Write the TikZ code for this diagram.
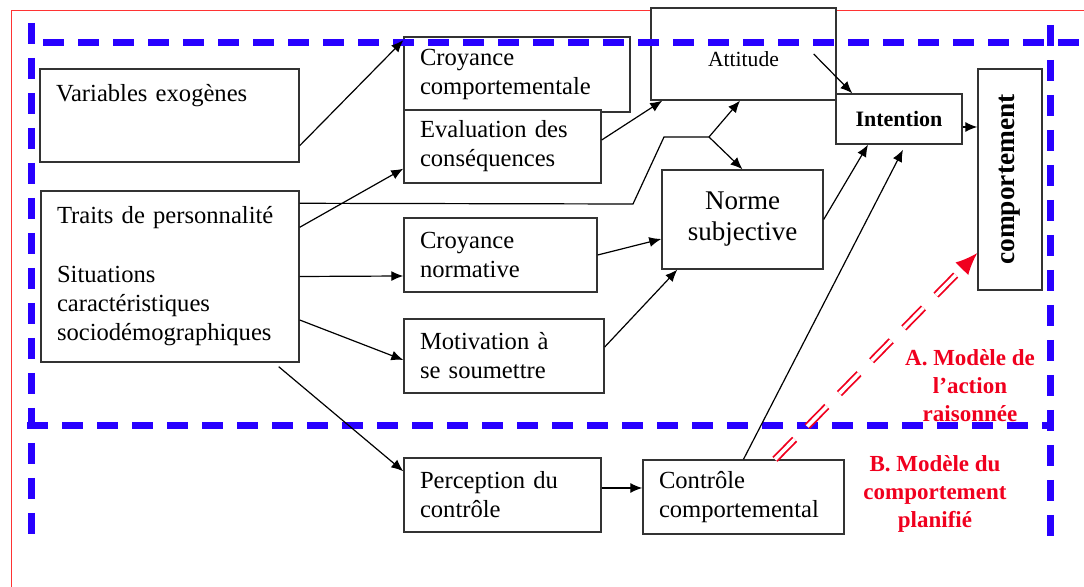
\documentclass[tikz,border=0pt]{standalone}
\usepackage{fontspec}
\setmainfont{Liberation Serif}
\usetikzlibrary{arrows.meta}
\definecolor{bleutrait}{RGB}{40,0,255}
\definecolor{rougetrait}{RGB}{240,0,30}

\begin{document}
\begin{tikzpicture}[x=0.5pt, y=-0.5pt, font=\fontsize{12.3}{14.5}\selectfont]
    \tikzstyle{boite} = [rectangle, draw=black!80, line width=0.7pt, fill=white, align=left, inner xsep=8pt, inner ysep=0pt]
    \tikzstyle{centre} = [boite, align=center, inner xsep=0pt]
    \tikzstyle{fleche} = [-{Latex[length=6pt,width=5pt]}, line width=0.6pt]
    \tikzstyle{tirets} = [bleutrait, line width=3.5pt, dash pattern=on 10.5pt off 7pt]
    \tikzstyle{modele} = [rougetrait, font=\fontsize{11.5}{14}\selectfont\bfseries, align=center]

    \useasboundingbox (0,0) rectangle (1084,587);

    % Cadre
    \draw [red!80, line width=0.5pt] (11,587) -- (11,11) -- (1084,11);

    % Variables externes
    \node [boite, text width=113.5pt, minimum height=46.5pt] (exo) at (169.5,115.5) {Variables exogènes\\[8pt]\mbox{}};
    \node [boite, text width=113pt, minimum height=85.5pt] (traits) at (170,276.5) {Traits de personnalité\\[15pt]Situations\\caractéristiques\\sociodémographiques};

    % Croyances
    \node [boite, text width=97pt, minimum height=37.5pt] (croycomp) at (517,74.5) {Croyance\\comportementale};
    \node [boite, text width=82.5pt, minimum height=36.5pt] (eval) at (502.5,146.5) {Evaluation des\\conséquences};
    \node [boite, text width=80.5pt, minimum height=37pt] (croynorm) at (500.5,255) {Croyance\\normative};
    \node [boite, text width=84pt, minimum height=37pt] (motiv) at (504,356) {Motivation à\\se soumettre};
    \node [boite, text width=82.5pt, minimum height=37pt] (percep) at (502.5,495) {Perception du\\contrôle};

    % Determinants
    \node [centre, minimum width=92.5pt, minimum height=46pt, text height=13pt, font=\fontsize{10.8}{13}\selectfont] (attitude) at (743.5,54) {Attitude};
    \node [centre, minimum width=80.5pt, minimum height=49.5pt, font=\fontsize{13.5}{15.5}\selectfont] (norme) at (742.5,219.5) {Norme\\subjective};
    \node [boite, text width=84.5pt, minimum height=37pt] (controle) at (743.5,497) {Contrôle\\comportemental};
    \node [centre, minimum width=63pt, minimum height=25pt, font=\fontsize{11}{13}\selectfont\bfseries] (intention) at (899,119) {Intention};
    \node [centre, rotate=90, minimum width=110.5pt, minimum height=32pt, font=\fontsize{13.7}{16}\selectfont\bfseries] (comport) at (1010,179.5) {comportement};

    % Modeles
    \node [modele] (labA) at (970,386) {A. Modèle de\\l’action\\raisonnée};
    \node [modele] (labB) at (935,494) {B. Modèle du\\comportement\\planifié};

    \coordinate (coude1) at (633,204);
    \coordinate (coude2) at (664,137);
    \coordinate (fourche) at (709,137);

    % Zones des deux modeles
    \draw [tirets] (31,23) -- (31,535);
    \draw [tirets] (43,43) -- (1084,43);
    \draw [tirets] (1050,25) -- (1050,537);
    \draw [tirets] (27,426) -- (1050,426);

    % Liens
    \draw [fleche] ([yshift=8.5pt]exo.south east) -- ([yshift=-2pt]croycomp.north west);
    \draw [fleche] ([yshift=-18.5pt]traits.north east) -- ([yshift=7.5pt]eval.south west);
    \draw [fleche] (traits.east) -- ([yshift=-10.5pt]croynorm.west);
    \draw [fleche] ([yshift=-21.75pt]traits.east) -- ([yshift=-2pt]motiv.west);
    \draw [fleche] ([xshift=-10.5pt,yshift=-2pt]traits.south east) -- ([yshift=-7pt]percep.north west);

    \draw [line width=0.6pt] ([yshift=-6.5pt]traits.north east) -- (coude1) -- (coude2) -- (fourche);
    \draw [fleche] (fourche) -- ([xshift=-1.75pt]attitude.south);
    \draw [fleche] (fourche) -- (norme.north);

    \draw [fleche] ([yshift=3.25pt]eval.east) -- ([xshift=6pt]attitude.south west);
    \draw [fleche] (croynorm.east) -- ([yshift=-9.75pt]norme.west);
    \draw [fleche] ([yshift=4.5pt]motiv.east) -- ([xshift=8pt]norme.south west);
    \draw [fleche] ([xshift=-11.5pt]attitude.east) -- ([xshift=8.5pt]intention.north west);
    \draw [fleche] (norme.east) -- ([xshift=-15.5pt]intention.south);
    \draw [fleche] (controle.north) -- ([xshift=2pt,yshift=-2.5pt]intention.south);
    \draw [fleche] ([yshift=-4pt]intention.east) -- ([yshift=-4pt]intention.east -| comport.north);
    \draw [fleche] ([yshift=3.5pt]percep.east) -- ([yshift=3.5pt]percep.east -| controle.west);

    \draw [rougetrait, double=white, line width=0.9pt, double distance=1.8pt, dash pattern=on 14pt off 9pt, -{Latex[length=11pt,width=9pt]}] ([xshift=15.75pt]controle.north) -- ([yshift=-36.75pt]comport.north);
\end{tikzpicture}
\end{document}
